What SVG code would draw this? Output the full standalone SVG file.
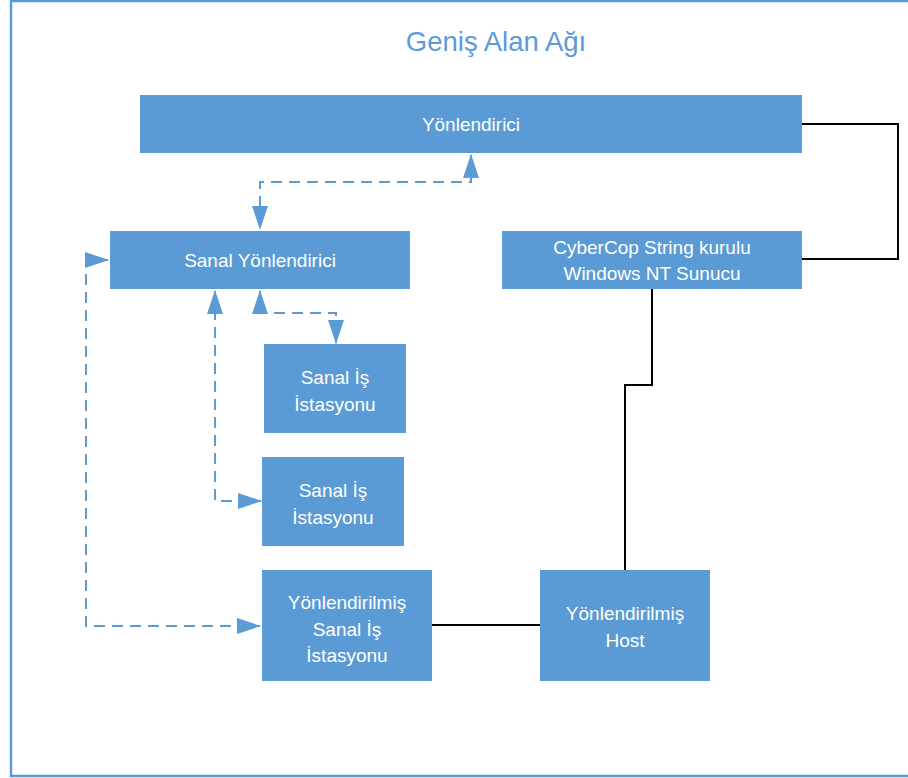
<svg xmlns="http://www.w3.org/2000/svg" width="908" height="778" viewBox="0 0 908 778">
  <defs>
    <style>
      .box { fill: #5b9bd5; }
      .lbl { font-family: "Liberation Sans", "Open Sans", Arial, sans-serif; font-size: 19px; fill: #ffffff; text-anchor: middle; }
      .title { font-family: "Liberation Sans", "Open Sans", Arial, sans-serif; font-size: 27.5px; fill: #5b9bd5; text-anchor: middle; }
      .solid { fill: none; stroke: #000000; stroke-width: 2; }
      .dash { fill: none; stroke: #5b9bd5; stroke-width: 2; stroke-dasharray: 11 7; }
      .frame { fill: none; stroke: #5b9bd5; stroke-width: 2.5; }
    </style>
    <marker id="arrowL" viewBox="0 0 24 16" refX="23" refY="8" markerWidth="24" markerHeight="16" markerUnits="userSpaceOnUse" orient="auto-start-reverse">
      <path d="M0,0 L24,8 L0,16 Z" fill="#5b9bd5"/>
    </marker>
  </defs>

  <rect x="0" y="0" width="908" height="778" fill="#ffffff"/>
  <!-- outer frame -->
  <rect class="frame" x="11" y="1" width="905" height="775"/>

  <text class="title" x="496" y="51">Geniş Alan Ağı</text>

  <!-- connectors -->
  <g id="connectors">
    <polyline class="solid" points="802,124 898,124 898,259 802,259"/>
    <polyline class="solid" points="652,289 652,385 625,385 625,570"/>
    <line class="solid" x1="432" y1="625" x2="540" y2="625"/>
    <polyline class="dash" points="471,155 471,182 260,182 260,229" marker-start="url(#arrowL)" marker-end="url(#arrowL)"/>
    <polyline class="dash" points="260,291 260,313 336,313 336,343" marker-start="url(#arrowL)" marker-end="url(#arrowL)"/>
    <polyline class="dash" points="215,291 215,501 261,501" marker-start="url(#arrowL)" marker-end="url(#arrowL)"/>
    <polyline class="dash" points="108,260 86,260 86,626 260,626" marker-start="url(#arrowL)" marker-end="url(#arrowL)"/>
  </g>

  <g id="yonlendirici">
    <rect class="box" x="140" y="95" width="662" height="58"/>
    <text class="lbl" x="471" y="131">Yönlendirici</text>
  </g>

  <g id="sanal-yonlendirici">
    <rect class="box" x="110" y="231" width="300" height="58"/>
    <text class="lbl" x="260" y="267">Sanal Yönlendirici</text>
  </g>

  <g id="cybercop">
    <rect class="box" x="502" y="231" width="300" height="58"/>
    <text class="lbl" x="652" y="254">CyberCop String kurulu</text>
    <text class="lbl" x="652" y="280">Windows NT Sunucu</text>
  </g>

  <g id="sanal-is-1">
    <rect class="box" x="264" y="344" width="142" height="89"/>
    <text class="lbl" x="335" y="384">Sanal İş</text>
    <text class="lbl" x="335" y="411">İstasyonu</text>
  </g>

  <g id="sanal-is-2">
    <rect class="box" x="262" y="457" width="142" height="89"/>
    <text class="lbl" x="333" y="497">Sanal İş</text>
    <text class="lbl" x="333" y="524">İstasyonu</text>
  </g>

  <g id="yonlendirilmis-sanal-is">
    <rect class="box" x="262" y="570" width="170" height="111"/>
    <text class="lbl" x="347" y="609">Yönlendirilmiş</text>
    <text class="lbl" x="347" y="636">Sanal İş</text>
    <text class="lbl" x="347" y="662">İstasyonu</text>
  </g>

  <g id="yonlendirilmis-host">
    <rect class="box" x="540" y="570" width="170" height="111"/>
    <text class="lbl" x="625" y="620">Yönlendirilmiş</text>
    <text class="lbl" x="625" y="647">Host</text>
  </g>
</svg>
